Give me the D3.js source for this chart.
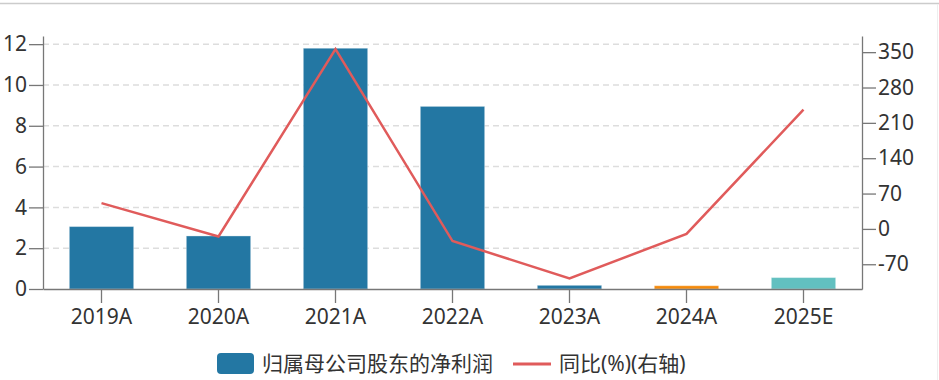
<!DOCTYPE html>
<html>
<head>
<meta charset="utf-8">
<script src="https://cdn.jsdelivr.net/npm/d3@7"></script>
<style>
  body { margin: 0; background: #fff; }
  svg text { font-family: "Noto Sans", "Noto Sans CJK SC", sans-serif; fill: #333; }
  .axis path, .axis line { stroke: #777; stroke-width: 1.3px; }
  .grid line { stroke: #ddd; stroke-width: 1.5px; stroke-dasharray: 6,4; }
</style>
</head>
<body>
<div id="chart"></div>
<script>
var categories = ["2019A", "2020A", "2021A", "2022A", "2023A", "2024A", "2025E"];
var netProfit = [3.06, 2.6, 11.8, 8.95, 0.18, 0.16, 0.56];
var yoy = [51, -15, 356, -24, -98, -10, 236];
var leftTicks = [0, 2, 4, 6, 8, 10, 12];
var rightTicks = [-70, 0, 70, 140, 210, 280, 350];
var barColors = ["#2377a3", "#2377a3", "#2377a3", "#2377a3", "#2377a3", "#f58a0b", "#62c0c0"];

var width = 939, height = 380;
var plotLeft = 43, plotRight = 862, plotTop = 36, plotBottom = 289;

var svg = d3.select("#chart").append("svg")
    .attr("width", width).attr("height", height);

// frame
svg.append("line").attr("x1", 0).attr("x2", width).attr("y1", 3.5).attr("y2", 3.5)
    .attr("stroke", "#ccc").attr("stroke-width", 1.5);
svg.append("line").attr("x1", 937.5).attr("x2", 937.5).attr("y1", 4).attr("y2", height)
    .attr("stroke", "#eee");

var x = d3.scaleBand().domain(categories).range([plotLeft, plotRight]).padding(0);
var y = d3.scaleLinear().domain([0, 12.4]).range([plotBottom, plotTop]);
var y2 = d3.scaleLinear().domain([-119, 382]).range([plotBottom, plotTop]);
var barW = x.bandwidth() * 0.55;

// grid
svg.append("g").attr("class", "grid")
  .selectAll("line").data(leftTicks.slice(1)).enter().append("line")
    .attr("x1", plotLeft).attr("x2", plotRight)
    .attr("y1", function(d) { return y(d); }).attr("y2", function(d) { return y(d); });

// bars
svg.selectAll(".bar").data(netProfit).enter().append("rect")
    .attr("class", "bar")
    .attr("x", function(d, i) { return x(categories[i]) + (x.bandwidth() - barW) / 2; })
    .attr("y", function(d) { return y(d); })
    .attr("width", barW)
    .attr("height", function(d) { return y(0) - y(d); })
    .attr("fill", function(d, i) { return barColors[i]; })
    .attr("stroke", "#fff").attr("stroke-opacity", 0.35).attr("stroke-width", 1);

// line
var line = d3.line()
    .x(function(d, i) { return x(categories[i]) + x.bandwidth() / 2; })
    .y(function(d) { return y2(d); });
svg.append("path").datum(yoy)
    .attr("d", line)
    .attr("fill", "none")
    .attr("stroke", "#e05b5b")
    .attr("stroke-width", 2.5);

// axes
var fs = "21px";
var plain = function(d) { return String(d); };
var gx = svg.append("g").attr("class", "axis")
    .attr("transform", "translate(0," + plotBottom + ")")
    .call(d3.axisBottom(x).tickSize(14).tickSizeOuter(0).tickPadding(6));
gx.selectAll("text").style("font-size", fs);

var gl = svg.append("g").attr("class", "axis")
    .attr("transform", "translate(" + plotLeft + ",0)")
    .call(d3.axisLeft(y).tickValues(leftTicks).tickFormat(plain).tickSize(14).tickSizeOuter(0).tickPadding(2));
gl.selectAll("text").style("font-size", fs);

var gr = svg.append("g").attr("class", "axis")
    .attr("transform", "translate(" + plotRight + ",0)")
    .call(d3.axisRight(y2).tickValues(rightTicks).tickFormat(plain).tickSize(14).tickSizeOuter(0).tickPadding(2));
gr.selectAll("text").style("font-size", fs);

// legend
var lg = svg.append("g");
lg.append("rect").attr("x", 217).attr("y", 353).attr("width", 37).attr("height", 21)
    .attr("rx", 4).attr("fill", barColors[0]);
lg.append("text").attr("x", 262).attr("y", 364).attr("dy", "0.35em")
    .style("font-size", fs).text("归属母公司股东的净利润");
lg.append("line").attr("x1", 513).attr("x2", 551).attr("y1", 364).attr("y2", 364)
    .attr("stroke", "#e05b5b").attr("stroke-width", 3);
lg.append("text").attr("x", 559).attr("y", 364).attr("dy", "0.35em")
    .style("font-size", fs).text("同比(%)(右轴)");
</script>
</body>
</html>
